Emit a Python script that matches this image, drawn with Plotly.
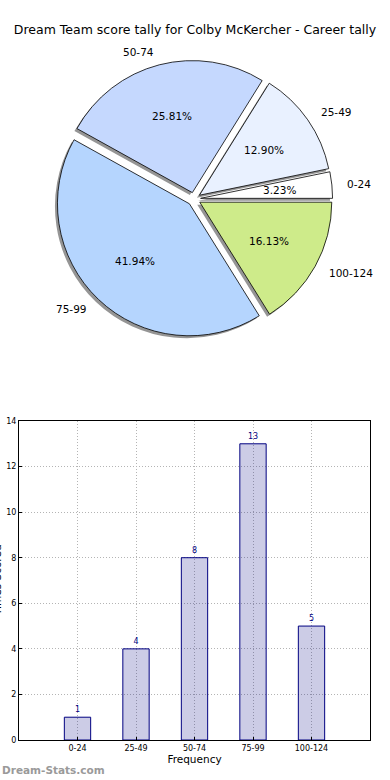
import math
import plotly.graph_objects as go

# ---- data ----
categories = ["0-24", "25-49", "50-74", "75-99", "100-124"]
counts = [1, 4, 8, 13, 5]
pie_colors = ["#ffffff", "#e9f1ff", "#c5d8fe", "#b5d5fe", "#ceeb8a"]
y_ticks = [0, 2, 4, 6, 8, 10, 12, 14]

W, H = 390, 780

def px_x(p):
    return p / W

def px_y(p):
    return (H - p) / H

total = sum(counts)
pct_text = ["%.2f%%" % (100.0 * c / total) for c in counts]
# start the first slice at 3 o'clock, going counter-clockwise
rot = 90 - 360.0 * counts[0] / total

# pie geometry (pixels)
cx, cy, r = 194, 199, 132
pull = 0.05
half = r * (1 + pull)
sh = 2.5  # shadow offset px

def dom(half_box, dx=0.0, dy=0.0):
    return dict(x=[px_x(cx - half_box + dx), px_x(cx + half_box + dx)],
                y=[px_y(cy + half_box + dy), px_y(cy - half_box + dy)])

common = dict(labels=categories, values=counts, sort=False,
              direction="counterclockwise", rotation=rot,
              showlegend=False, textposition="none")
fnt = dict(family="DejaVu Sans", size=10.5, color="#000000")

fig = go.Figure()

# shadow
fig.add_trace(go.Pie(
    **common, pull=[pull] * len(counts),
    marker=dict(colors=["#8a8a8a"] * len(counts), line=dict(width=0)),
    opacity=0.9, domain=dom(half, -sh, sh), hoverinfo="skip",
))

# main pie
fig.add_trace(go.Pie(
    **common, pull=[pull] * len(counts),
    marker=dict(colors=pie_colors, line=dict(color="#000000", width=0.8)),
    domain=dom(half),
))

# label positions along each slice bisector (pie units, radius = 1)
mid_angles = []
acc = 0.0
for c in counts:
    mid_angles.append(2 * math.pi * (acc + c / 2.0) / total)
    acc += c
lab_x = [(1.1 + pull) * math.cos(a) for a in mid_angles]
lab_y = [(1.1 + pull) * math.sin(a) for a in mid_angles]
pct_x = [(0.6 + pull) * math.cos(a) for a in mid_angles]
pct_y = [(0.6 + pull) * math.sin(a) for a in mid_angles]

annots = []
for i in range(len(categories)):
    annots.append(dict(text=categories[i], x=lab_x[i], y=lab_y[i],
                       xref="x2", yref="y2", showarrow=False,
                       xanchor="left" if lab_x[i] >= 0 else "right",
                       yanchor="middle", font=fnt))
    annots.append(dict(text=pct_text[i], x=pct_x[i], y=pct_y[i],
                       xref="x2", yref="y2", showarrow=False,
                       xanchor="center", yanchor="middle", font=fnt))

# bar chart
fig.add_trace(go.Bar(
    x=categories, y=counts, width=0.45,
    marker=dict(color="rgba(0,0,128,0.2)", line=dict(color="#000080", width=1)),
    text=[str(c) for c in counts], textposition="outside",
    textfont=dict(family="DejaVu Sans", size=8, color="#000080"),
    cliponaxis=False, showlegend=False,
    xaxis="x", yaxis="y",
))

grid = dict(showgrid=True, gridcolor="#b4b4b4", griddash="1px,2px", gridwidth=1)
hidden = dict(visible=False, showgrid=False, zeroline=False, fixedrange=True)
lab_span = 1.3
pd_ = dom(r * lab_span)

annots += [
    dict(text="Times Scored", xref="paper", yref="paper",
         x=px_x(-3), y=px_y(580), xanchor="center", yanchor="middle",
         textangle=-90, showarrow=False,
         font=dict(family="DejaVu Sans", size=10.5, color="#000000")),
    dict(text="<b>Dream-Stats.com</b>", xref="paper", yref="paper",
         x=0, y=px_y(770), xanchor="left", yanchor="middle",
         showarrow=False,
         font=dict(family="DejaVu Sans", size=10.5, color="#9a9a9a")),
]

fig.update_layout(
    width=W, height=H,
    margin=dict(l=0, r=0, t=0, b=0),
    paper_bgcolor="#ffffff", plot_bgcolor="rgba(0,0,0,0)",
    font=dict(family="DejaVu Sans", color="#000000"),
    title=dict(text="Dream Team score tally for Colby McKercher - Career tally",
               x=0.5, xanchor="center", y=px_y(30), yanchor="middle",
               font=dict(family="DejaVu Sans", size=12.5, color="#000000")),
    xaxis=dict(domain=[px_x(19), px_x(370)], range=[-1, 5], automargin=False,
               type="category", categoryorder="array", categoryarray=categories,
               showline=True, linecolor="#000000", linewidth=1, mirror=True,
               ticks="inside", ticklen=3, tickcolor="#000000",
               tickfont=dict(family="DejaVu Sans", size=8),
               title=dict(text="Frequency", standoff=4,
                          font=dict(family="DejaVu Sans", size=10.5)),
               zeroline=False, **grid),
    yaxis=dict(domain=[px_y(740), px_y(421)], range=[0, 14], automargin=False,
               tickvals=y_ticks, ticktext=[str(v) for v in y_ticks],
               showline=True, linecolor="#000000", linewidth=1, mirror=True,
               ticks="inside", ticklen=3, tickcolor="#000000",
               tickfont=dict(family="DejaVu Sans", size=8),
               zeroline=False, **grid),
    xaxis2=dict(domain=pd_["x"], range=[-lab_span, lab_span], anchor="y2", **hidden),
    yaxis2=dict(domain=pd_["y"], range=[-lab_span, lab_span], anchor="x2", **hidden),
    annotations=annots,
)

fig.write_html("out.html", config={"displayModeBar": False},
               post_script="document.body.style.margin='0';")
